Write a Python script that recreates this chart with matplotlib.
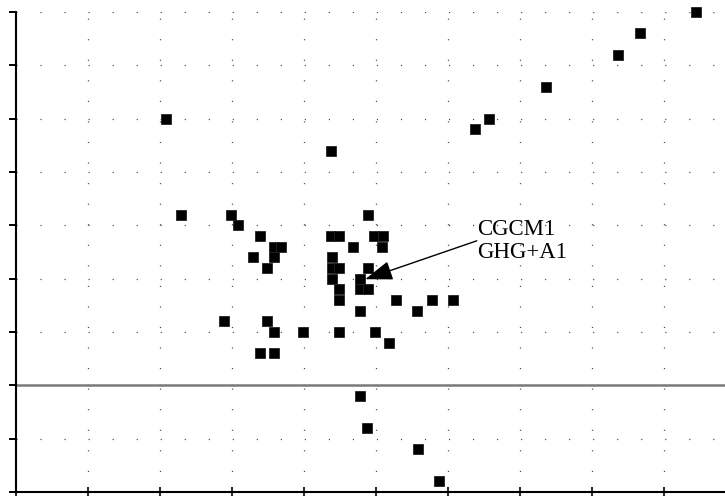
import numpy as np
import matplotlib
matplotlib.use("Agg")
import matplotlib.pyplot as plt

# значения
x_vals = [9.45, 8.67, 8.36, 7.36, 6.57, 6.38, 2.08, 4.38,
          2.29, 2.99, 3.08, 4.89, 3.39, 4.38, 4.49, 4.97, 5.10,
          3.58, 3.68, 4.68, 5.08, 3.29, 3.58, 4.39, 3.49, 4.39, 4.49, 4.89,
          4.39, 4.78, 4.49, 4.78, 4.89, 4.49, 5.28, 5.78, 6.07, 4.78, 5.57,
          2.89, 3.49, 3.58, 3.99, 4.49, 4.99, 5.18, 3.39, 3.58,
          4.78, 4.88, 5.58, 5.88]
y_vals = [7.0, 6.6, 6.2, 5.6, 5.0, 4.8, 5.0, 4.4,
          3.2, 3.2, 3.0, 3.2, 2.8, 2.8, 2.8, 2.8, 2.8,
          2.6, 2.6, 2.6, 2.6, 2.4, 2.4, 2.4, 2.2, 2.2, 2.2, 2.2,
          2.0, 2.0, 1.8, 1.8, 1.8, 1.6, 1.6, 1.6, 1.6, 1.4, 1.4,
          1.2, 1.2, 1.0, 1.0, 1.0, 1.0, 0.8, 0.6, 0.6,
          -0.2, -0.8, -1.2, -1.8]

x_ticks = np.arange(0, 10, 1)
y_ticks = np.arange(-2, 8, 1)

label_text = "CGCM1\nGHG+A1"
label_point = (4.85, 1.99)

plt.rcParams['lines.scale_dashes'] = False

fig = plt.figure(figsize=(7.25, 4.96), dpi=100)
ax = fig.add_axes([16 / 725, 4 / 496, 709 / 725, 480 / 496])
ax.set_xlim(0, 709 / 72)
ax.set_ylim(-2, 7)

# пунктирная сетка из точек
for yv in y_ticks:
    ax.axhline(yv, color='#444444', lw=0.9, linestyle=(0, (0.8, 16.5)), zorder=1)
for xv in x_ticks[1:]:
    ax.axvline(xv, color='#444444', lw=0.9, linestyle=(0, (0.8, 14.0)), zorder=1)

# линия нуля
ax.axhline(0, color='#7a7a7a', lw=1.8, zorder=2)

ax.plot(x_vals, y_vals, 's', color='black', markersize=7.3,
        markeredgecolor='#222222', markeredgewidth=0.6, zorder=3, clip_on=False)

ax.text(6.41, 3.11, label_text, fontfamily='Liberation Serif', fontsize=16.5,
        ha='left', va='top', linespacing=1.12, zorder=4)
ax.annotate('', xy=label_point, xytext=(6.40, 2.71),
            arrowprops=dict(arrowstyle='-|>,head_length=1.7,head_width=0.6',
                            color='black', lw=1.0, shrinkA=0, shrinkB=0),
            zorder=4)

ax.set_xticks(x_ticks)
ax.set_yticks(y_ticks)
ax.set_xticklabels([])
ax.set_yticklabels([])
ax.tick_params(axis='y', direction='out', length=5, width=1.4, color='black')
ax.tick_params(axis='x', direction='inout', length=7, width=1.2, color='black')

for side in ['top', 'right']:
    ax.spines[side].set_visible(False)
ax.spines['left'].set_linewidth(1.5)
ax.spines['bottom'].set_linewidth(1.5)

fig.savefig('out.png', dpi=100)
